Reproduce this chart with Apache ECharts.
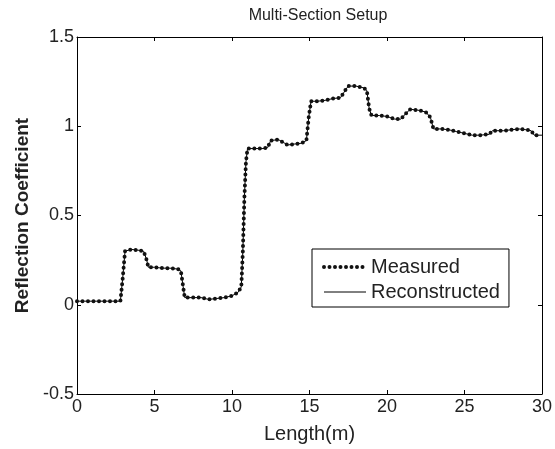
<!DOCTYPE html>
<html>
<head>
<meta charset="utf-8">
<script src="https://cdn.jsdelivr.net/npm/echarts@6/dist/echarts.min.js"></script>
<style>
  html, body { margin: 0; padding: 0; background: #fff; }
  #chart { width: 555px; height: 449px; }
</style>
</head>
<body>
<div id="chart"></div>
<script>
// 长度 (m)
const lengths = [0, 0.5, 1, 1.5, 2, 2.5, 2.8, 2.95, 3.1, 3.5, 4, 4.3, 4.5, 4.6, 5, 5.5, 6, 6.5, 6.7, 6.85, 6.95,
  7.5, 8, 8.5, 9, 9.5, 10, 10.4, 10.6, 10.7, 10.8, 10.9, 11, 11.5, 12, 12.3, 12.5, 13, 13.3, 13.6, 14, 14.5,
  14.8, 14.95, 15.1, 15.5, 16, 16.5, 17, 17.3, 17.5, 18, 18.5, 18.7, 18.85, 19, 19.5, 20, 20.5, 20.9, 21.2,
  21.5, 22, 22.5, 22.8, 23, 23.5, 24, 24.5, 25, 25.5, 26, 26.6, 26.8, 27.5, 28, 28.5, 29, 29.3, 29.5, 30];
// 测量值
const measured = [0.02, 0.02, 0.02, 0.02, 0.02, 0.02, 0.02, 0.15, 0.30, 0.31, 0.305, 0.30, 0.25, 0.21, 0.21, 0.205, 0.205, 0.20, 0.19, 0.10, 0.04,
  0.04, 0.04, 0.03, 0.035, 0.04, 0.05, 0.07, 0.10, 0.30, 0.60, 0.80, 0.875, 0.875, 0.875, 0.88, 0.92, 0.925, 0.91, 0.895, 0.90, 0.905,
  0.92, 1.05, 1.14, 1.14, 1.145, 1.155, 1.16, 1.20, 1.225, 1.225, 1.215, 1.20, 1.10, 1.06, 1.06, 1.055, 1.04, 1.04, 1.07,
  1.095, 1.09, 1.08, 1.05, 0.985, 0.985, 0.98, 0.97, 0.96, 0.95, 0.95, 0.955, 0.975, 0.975, 0.98, 0.985, 0.98, 0.975, 0.95, 0.95];
// 重构值 (与测量值重合)
const reconstructed = measured.slice();

const font = 'Liberation Sans, Arial, sans-serif';
const dotLine = { color: '#111', width: 4, type: [0, 5.5], cap: 'round' };
const thinLine = { color: '#000', width: 1, type: 'solid' };
const tick = { show: true, inside: true, length: 4, lineStyle: { color: '#000' } };
const line = { show: true, onZero: false, lineStyle: { color: '#000', width: 1 } };

let chart = echarts.init(document.getElementById('chart'));
chart.setOption({
  animation: false,
  title: {
    text: 'Multi-Section Setup',
    left: 313, top: 3, textAlign: 'center',
    textStyle: { fontFamily: font, fontSize: 16, fontWeight: 'normal', color: '#222' }
  },
  grid: { left: 77, right: 13, top: 37, bottom: 53 },
  legend: {
    orient: 'vertical',
    left: 312, top: 249,
    backgroundColor: '#fff',
    borderColor: '#000', borderWidth: 1, borderRadius: 0,
    padding: [7, 9, 4, 10],
    itemGap: 3, itemWidth: 42, itemHeight: 14,
    itemStyle: { opacity: 0 },
    textStyle: { fontFamily: font, fontSize: 20, lineHeight: 22, color: '#222' },
    data: [
      { name: 'Measured', lineStyle: dotLine },
      { name: 'Reconstructed', lineStyle: thinLine }
    ]
  },
  xAxis: [{
    type: 'value', min: 0, max: 30, interval: 5,
    name: 'Length(m)', nameLocation: 'middle', nameGap: 30,
    nameTextStyle: { fontFamily: font, fontSize: 20, color: '#222' },
    axisLine: line,
    axisTick: tick,
    axisLabel: { fontFamily: font, fontSize: 18, color: '#222', margin: 4 },
    splitLine: { show: false }
  }, {
    type: 'value', min: 0, max: 30, interval: 5, position: 'top',
    axisLine: line,
    axisTick: tick,
    axisLabel: { show: false },
    splitLine: { show: false }
  }],
  yAxis: [{
    type: 'value', min: -0.5, max: 1.5, interval: 0.5,
    name: 'Reflection Coefficient', nameLocation: 'middle', nameGap: 42,
    nameTextStyle: { fontFamily: font, fontSize: 19, fontWeight: 'bold', color: '#222' },
    axisLine: line,
    axisTick: tick,
    axisLabel: { fontFamily: font, fontSize: 18, color: '#222', margin: 3 },
    splitLine: { show: false }
  }, {
    type: 'value', min: -0.5, max: 1.5, interval: 0.5, position: 'right',
    axisLine: line,
    axisTick: tick,
    axisLabel: { show: false },
    splitLine: { show: false }
  }],
  series: [
    {
      name: 'Reconstructed',
      type: 'line',
      symbol: 'none',
      color: '#000',
      data: lengths.map((x, i) => [x, reconstructed[i]]),
      lineStyle: thinLine,
      z: 2
    },
    {
      name: 'Measured',
      type: 'line',
      symbol: 'none',
      color: '#111',
      data: lengths.map((x, i) => [x, measured[i]]),
      lineStyle: dotLine,
      z: 3
    }
  ]
});
</script>
</body>
</html>
